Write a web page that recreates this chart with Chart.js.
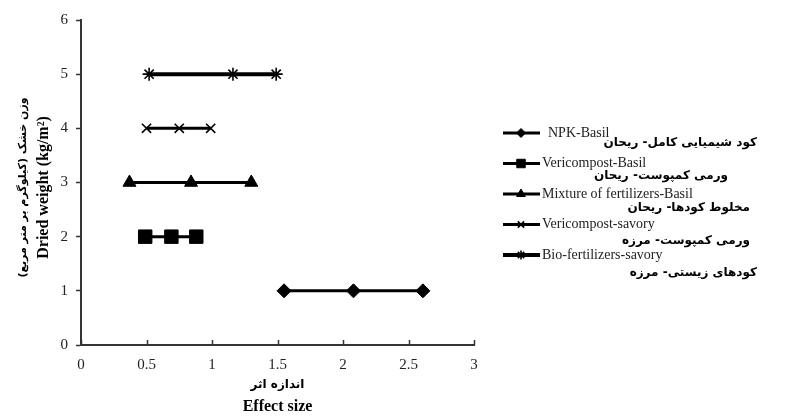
<!DOCTYPE html>
<html>
<head>
<meta charset="utf-8">
<script src="https://cdn.jsdelivr.net/npm/chart.js@4/dist/chart.umd.min.js"></script>
<style>
html,body{margin:0;padding:0;background:#fff;}
#wrap{width:808px;height:418px;position:relative;}
</style>
</head>
<body>
<div id="wrap"><canvas id="c" width="808" height="418"></canvas></div>
<script>
// ---- data ----
const seriesNames = ['NPK-Basil', 'Vericompost-Basil', 'Mixture of fertilizers-Basil', 'Vericompost-savory', 'Bio-fertilizers-savory'];
const persianNames = ['کود شیمیایی کامل- ریحان', 'ورمی کمپوست- ریحان', 'مخلوط کودها- ریحان', 'ورمی کمپوست- مرزه', 'کودهای زیستی- مرزه'];
const yLevels = [1, 2, 3, 4, 5];
const npkBasil = [1.55, 2.08, 2.61];
const vermiBasil = [0.49, 0.69, 0.88];
const mixBasil = [0.37, 0.84, 1.30];
const vermiSavory = [0.50, 0.75, 0.99];
const bioSavory = [0.52, 1.16, 1.49];
const xTicks = [0, 0.5, 1, 1.5, 2, 2.5, 3];
const yTicks = [0, 1, 2, 3, 4, 5, 6];
const xTitle = ['اندازه اثر', 'Effect size'];
const yTitle = ['وزن خشک (کیلوگرم بر متر مربع)', 'Dried weight (kg/m²)'];

// ---- styles ----
const allValues = [npkBasil, vermiBasil, mixBasil, vermiSavory, bioSavory];
const pointStyles = ['rectRot', 'rect', 'triangle', 'crossRot', 'star'];
const pointRadii = [7, 9.5, 7.5, 6.5, 6.5];
const legendRadii = [4.5, 6, 5, 4.5, 4.5];
const lineWidths = [3, 3, 3, 3, 4];
const serif = '"Liberation Serif", "Times New Roman", serif';
const arabicFont = '"DejaVu Sans", sans-serif';

const datasets = allValues.map((vals, i) => ({
  label: seriesNames[i],
  data: vals.map(v => ({x: v, y: yLevels[i]})),
  showLine: true,
  borderColor: '#000',
  backgroundColor: '#000',
  borderWidth: lineWidths[i],
  pointStyle: pointStyles[i],
  pointRadius: pointRadii[i],
  pointBorderWidth: (pointStyles[i] === 'crossRot' || pointStyles[i] === 'star') ? 1.6 : 1,
  pointBorderColor: '#000',
  pointBackgroundColor: '#000'
}));

const decor = {
  id: 'decor',
  afterDraw(chart) {
    const ctx = chart.ctx;
    const xs = chart.scales.x, ys = chart.scales.y;
    ctx.save();
    // inner x ticks
    ctx.strokeStyle = '#333';
    ctx.lineWidth = 1.5;
    xTicks.forEach(t => {
      const px = Math.round(xs.getPixelForValue(t)) + 0.5;
      ctx.beginPath();
      ctx.moveTo(px, ys.bottom);
      ctx.lineTo(px, ys.bottom - 5);
      ctx.stroke();
    });
    // x title
    const cx = (xs.left + xs.right) / 2;
    ctx.fillStyle = '#000';
    ctx.textAlign = 'center';
    ctx.textBaseline = 'middle';
    ctx.font = 'bold 12px ' + arabicFont;
    ctx.fillText(xTitle[0], cx, 385);
    ctx.font = 'bold 16px ' + serif;
    ctx.fillText(xTitle[1], cx, 407);
    // y title
    const cy = (ys.top + ys.bottom) / 2 + 5;
    ctx.save();
    ctx.translate(23, cy);
    ctx.rotate(-Math.PI / 2);
    ctx.font = 'bold 11px ' + arabicFont;
    ctx.fillText(yTitle[0], 0, 0);
    ctx.restore();
    ctx.save();
    ctx.translate(44, cy);
    ctx.rotate(-Math.PI / 2);
    ctx.font = 'bold 16px ' + serif;
    ctx.fillText(yTitle[1], 0, 0);
    ctx.restore();
    // legend
    const persRight = [757, 728, 750, 750, 757];
    chart.data.datasets.forEach((ds, i) => {
      const ly = 133 + i * 30.5;
      ctx.strokeStyle = '#000';
      ctx.lineWidth = ds.borderWidth;
      ctx.beginPath();
      ctx.moveTo(503, ly);
      ctx.lineTo(540, ly);
      ctx.stroke();
      ctx.fillStyle = '#000';
      ctx.lineWidth = ds.pointBorderWidth;
      Chart.helpers.drawPoint(ctx, {pointStyle: ds.pointStyle, radius: legendRadii[i], borderWidth: ds.pointBorderWidth, rotation: 0}, 521, ly);
      ctx.font = '14px ' + serif;
      ctx.textAlign = 'left';
      ctx.textBaseline = 'middle';
      ctx.fillStyle = '#222';
      ctx.fillText(ds.label, i === 0 ? 548 : 542, ly);
      ctx.font = 'bold 12px ' + arabicFont;
      ctx.textAlign = 'right';
      ctx.fillStyle = '#000';
      ctx.fillText(persianNames[i], persRight[i], 143 + i * 32.5);
    });
    ctx.restore();
  }
};

new Chart(document.getElementById('c'), {
  type: 'scatter',
  data: {datasets},
  options: {
    responsive: false,
    animation: false,
    devicePixelRatio: 1,
    layout: {padding: {left: 0, top: 20, right: 334, bottom: 0}},
    plugins: {legend: {display: false}, tooltip: {enabled: false}},
    scales: {
      x: {
        type: 'linear', min: 0, max: 3,
        afterBuildTicks: s => { s.ticks = xTicks.map(v => ({value: v})); },
        afterFit: s => { s.height = 73; },
        grid: {display: true, drawOnChartArea: false, drawTicks: false},
        border: {display: true, color: '#333', width: 2},
        ticks: {padding: 11, color: '#222', font: {family: serif, size: 15}, maxRotation: 0, callback: v => String(v)}
      },
      y: {
        type: 'linear', min: 0, max: 6,
        afterBuildTicks: s => { s.ticks = yTicks.map(v => ({value: v})); },
        afterFit: s => { s.width = 81; },
        grid: {display: true, drawOnChartArea: false, drawTicks: true, tickLength: 5, color: '#333', tickWidth: 1.5},
        border: {display: true, color: '#333', width: 2},
        ticks: {padding: 8, color: '#222', font: {family: serif, size: 15}, callback: v => String(v)}
      }
    }
  },
  plugins: [decor]
});
</script>
</body>
</html>
